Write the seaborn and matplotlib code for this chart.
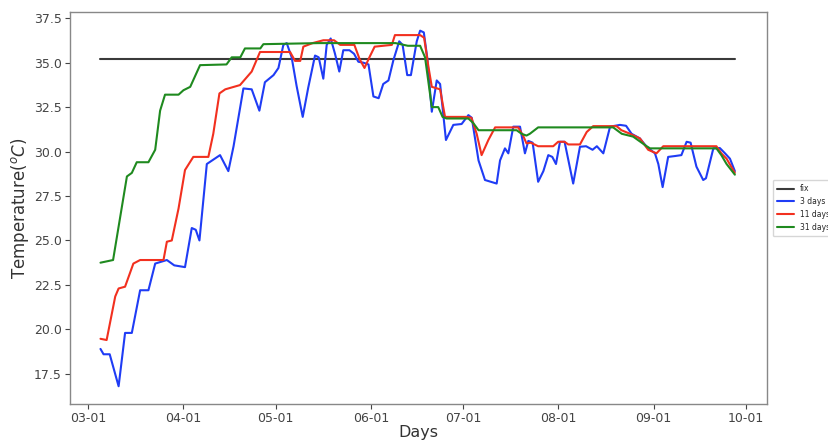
import matplotlib
matplotlib.use("Agg")
import matplotlib.pyplot as plt
import numpy as np
import pandas as pd
import seaborn as sns

# ---- data (day offset from 03-01, temperature in degC) ----
fix_days = [4, 210.4]
fix_temp = [35.2, 35.2]

d3_days = [4, 5, 7, 9.9, 12, 14.2, 16.9, 19.6, 21.8, 25.6, 28, 31.5, 33.7, 35, 36.2, 38.6, 42.9, 45.6, 47.3,
           50.5, 53.2, 55.7, 57.5, 60.3, 61.9, 63.5, 64.6, 66.2, 67.8, 69.8, 71.6, 73.8, 75, 76.5, 77.6, 78.9,
           80.3, 81.7, 83, 85, 86.5, 87.9, 89.5, 91.2, 92.8, 94.5, 96, 97.7, 99.3, 101.2, 102.3, 103.8, 105,
           106.9, 108, 109.2, 110.3, 111.8, 113.4, 114.5, 116.4, 118.8, 121.5, 123.7, 124.8, 127, 129.1, 131,
           132.9, 134, 135.6, 136.7, 138.3, 140.5, 142.1, 143.2, 144.6, 146.4, 148.1, 149.7, 151, 152.2, 153.5,
           155, 157.8, 160, 162, 164.1, 165.5, 167.6, 169.8, 173, 175, 176.8, 179.5, 181.7, 184.4, 185.5,
           186.9, 188.7, 191, 193, 194.7, 196, 197.9, 200.1, 201, 203.4, 205.5, 207.2, 208.8, 210.4]
d3_temp = [18.9, 18.6, 18.6, 16.8, 19.8, 19.8, 22.2, 22.2, 23.7, 23.9, 23.6, 23.5, 25.7, 25.6, 25.0, 29.3, 29.8,
           28.9, 30.3, 33.55, 33.5, 32.3, 33.9, 34.3, 34.7, 36.0, 36.1, 35.3, 33.7, 31.95, 33.6, 35.4, 35.3,
           34.1, 36.0, 36.36, 35.5, 34.5, 35.7, 35.7, 35.5, 35.05, 35.0, 34.9, 33.1, 33.0, 33.8, 34.0, 35.14,
           36.2, 36.0, 34.3, 34.3, 36.2, 36.8, 36.7, 35.3, 32.24, 34.0, 33.8, 30.65, 31.5, 31.55, 32.05, 31.9,
           29.5, 28.4, 28.3, 28.2, 29.5, 30.18, 29.9, 31.4, 31.4, 29.9, 30.6, 30.5, 28.3, 28.9, 29.8, 29.7,
           29.3, 30.55, 30.55, 28.2, 30.27, 30.3, 30.1, 30.3, 29.9, 31.4, 31.5, 31.45, 31.0, 30.74, 30.27, 29.9,
           29.3, 28.0, 29.7, 29.75, 29.8, 30.55, 30.5, 29.15, 28.4, 28.5, 30.18, 30.2, 29.9, 29.6, 28.9]

d11_days = [4, 6, 8.8, 9.9, 12, 14.7, 16.9, 24.5, 25.6, 27.2, 29.4, 31.5, 34.2, 39.1, 40.7, 42.7, 44.6, 49.4,
            53.2, 55.9, 65.7, 67.3, 69, 70, 73, 76.5, 80, 82, 86.6, 88.3, 89.9, 91.5, 93.2, 98.8, 99.8, 108,
            109.3, 110.7, 111.8, 114.5, 116.1, 122.8, 124.7, 126.4, 128, 130.2, 132.4, 139.9, 141.5, 142.6, 144,
            146.4, 151.3, 152.9, 155, 156.2, 160, 162.2, 164.3, 171.9, 173.5, 176.3, 179.5, 182.2, 184.9, 187.1,
            204.4, 206, 207.7, 210.4]
d11_temp = [19.47, 19.4, 21.85, 22.3, 22.4, 23.7, 23.9, 23.9, 24.93, 25.0, 26.8, 28.96, 29.7, 29.7, 31.0, 33.27,
            33.5, 33.74, 34.5, 35.6, 35.6, 35.1, 35.1, 35.9, 36.1, 36.26, 36.26, 36.0, 36.0, 35.2, 34.7, 35.3,
            35.9, 36.0, 36.55, 36.55, 36.4, 34.77, 33.64, 33.5, 31.95, 31.95, 31.9, 31.0, 29.8, 30.65, 31.36,
            31.36, 30.9, 30.46, 30.5, 30.3, 30.3, 30.55, 30.55, 30.4, 30.4, 31.1, 31.43, 31.43, 31.2, 31.0,
            30.74, 30.1, 29.9, 30.3, 30.3, 29.9, 29.6, 28.8]

d31_days = [4, 8.1, 12.6, 14.2, 15.8, 19.6, 21.8, 23.4, 25, 29.4, 31, 33.2, 36.4, 45, 46.7, 49.5, 51, 56, 57, 75,
            100, 104, 108, 109.6, 111.8, 113.9, 115.3, 116.6, 123.7, 125.3, 127, 139.4, 141, 142.6, 143.7, 146.4,
            170.8, 173.6, 177.3, 181.7, 182.8, 204.4, 206, 207.7, 210.4]
d31_temp = [23.75, 23.9, 28.6, 28.8, 29.4, 29.4, 30.1, 32.3, 33.2, 33.2, 33.45, 33.64, 34.86, 34.9, 35.3, 35.3,
            35.8, 35.8, 36.04, 36.1, 36.1, 35.95, 35.95, 35.3, 32.5, 32.5, 31.95, 31.86, 31.86, 31.6, 31.2, 31.2,
            31.0, 30.9, 31.0, 31.36, 31.36, 31.0, 30.84, 30.3, 30.18, 30.18, 29.8, 29.3, 28.7]

labels = ["fix", "3 days", "11 days", "31 days"]
colors = ["#3a3a3a", "#1f3cf5", "#f2301f", "#1f8a1f"]
x_ticklabels = ["03-01", "04-01", "05-01", "06-01", "07-01", "08-01", "09-01", "10-01"]
y_ticks = [17.5, 20.0, 22.5, 25.0, 27.5, 30.0, 32.5, 35.0, 37.5]

start = pd.Timestamp("2019-03-01")

def to_df(days, temps, name):
    return pd.DataFrame({"date": start + pd.to_timedelta(np.array(days, dtype=float), unit="D"),
                         "temp": temps, "series": name})

df = pd.concat([to_df(fix_days, fix_temp, labels[0]),
                to_df(d3_days, d3_temp, labels[1]),
                to_df(d11_days, d11_temp, labels[2]),
                to_df(d31_days, d31_temp, labels[3])], ignore_index=True)

sns.set_style("ticks")
plt.rcParams["font.family"] = ["DejaVu Sans"]

fig = plt.figure(figsize=(8.29, 4.44), dpi=100)
ax = fig.add_axes([0.0845, 0.09, 0.8405, 0.883])

sns.lineplot(data=df, x="date", y="temp", hue="series", hue_order=labels,
             palette=dict(zip(labels, colors)), sort=False, estimator=None,
             linewidth=1.5, ax=ax)

ax.set_xlim(start - pd.Timedelta(days=5.9), start + pd.Timedelta(days=220.8))
ax.set_ylim(15.8, 37.85)
ax.set_yticks(y_ticks)
ax.set_yticklabels([f"{v:.1f}" for v in y_ticks])
ax.set_xticks([pd.Timestamp(f"2019-{m:02d}-01") for m in range(3, 11)])
ax.set_xticklabels(x_ticklabels)

ax.tick_params(axis="both", labelsize=9, colors="#444444", length=3.5, pad=2.5)
for s in ax.spines.values():
    s.set_color("#888888")
    s.set_linewidth(1.0)

ax.set_xlabel("Days", fontsize=11.5, color="#333333", labelpad=0)
ax.set_ylabel(r"Temperature($^oC$)", fontsize=12, color="#333333", labelpad=2)

leg = ax.legend(loc="center left", bbox_to_anchor=(1.003, 0.5), fontsize=5.5,
                frameon=True, handlelength=2.2, borderpad=0.6, labelspacing=0.5)
leg.get_frame().set_edgecolor("#cccccc")
for line in leg.get_lines():
    line.set_linewidth(1.5)

fig.savefig("out.png", dpi=100)
